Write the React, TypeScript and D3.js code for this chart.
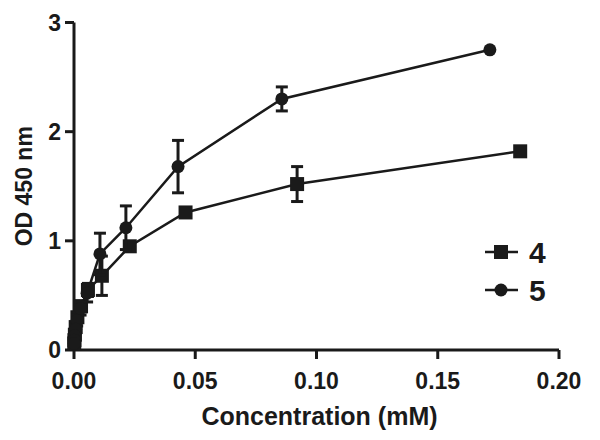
import React from 'react';
import * as d3 from 'd3';

// concentrations (mM), OD readings and SEM for each compound
const conc4 = [0.184, 0.092, 0.046, 0.023, 0.0115, 0.00575, 0.0029, 0.0014, 0.0007, 0.00036, 0.00018, 0.00009];
const od4 = [1.82, 1.52, 1.26, 0.95, 0.68, 0.55, 0.4, 0.3, 0.21, 0.14, 0.09, 0.06];
const err4 = [0.02, 0.16, 0.02, 0.04, 0.18, 0.06, 0.05, 0.04, 0.03, 0.02, 0.02, 0.01];

const conc5 = [0.1715, 0.0857, 0.0429, 0.0214, 0.0107, 0.0054, 0.0027, 0.0013, 0.0007, 0.00033, 0.00017, 0.00008];
const od5 = [2.75, 2.3, 1.68, 1.12, 0.88, 0.52, 0.38, 0.27, 0.19, 0.13, 0.09, 0.06];
const err5 = [0.0, 0.11, 0.24, 0.2, 0.19, 0.08, 0.06, 0.05, 0.04, 0.03, 0.02, 0.01];

const xTicks = [0, 0.05, 0.1, 0.15, 0.2];
const yTicks = [0, 1, 2, 3];
const seriesNames = ['4', '5'];

const W = 600;
const H = 440;
const ink = '#1a1a1a';
const font = '"Liberation Sans", Arial, sans-serif';

export default function App() {
  const x = d3.scaleLinear().domain([0, 0.2]).range([74, 559]);
  const y = d3.scaleLinear().domain([0, 3]).range([350, 22.5]);

  const series = [
    { name: seriesNames[0], xs: conc4, ys: od4, es: err4, shape: 'square' },
    { name: seriesNames[1], xs: conc5, ys: od5, es: err5, shape: 'circle' },
  ];

  const line = d3.line<[number, number]>()
    .x(d => x(d[0]))
    .y(d => y(d[1]));

  const marker = (shape: string, cx: number, cy: number, key: string | number) =>
    shape === 'square'
      ? <rect key={key} x={cx - 7} y={cy - 7} width={14} height={14} fill={ink} />
      : <circle key={key} cx={cx} cy={cy} r={6.5} fill={ink} />;

  return (
    <svg width={W} height={H} style={{ position: 'absolute', left: 0, top: 0, background: '#fff' }}>
      {/* axes */}
      <g stroke={ink} strokeWidth={3} fill="none">
        <line x1={x(0)} x2={x(0.2)} y1={y(0)} y2={y(0)} />
        <line x1={x(0)} x2={x(0)} y1={y(0)} y2={y(3)} />
        {xTicks.map(t => (
          <line key={t} x1={x(t)} x2={x(t)} y1={y(0)} y2={y(0) + 9} />
        ))}
        {yTicks.map(t => (
          <line key={t} x1={x(0) - 9} x2={x(0)} y1={y(t)} y2={y(t)} />
        ))}
      </g>
      <g fontFamily={font} fontWeight="bold" fill={ink} fontSize={23}>
        {xTicks.map(t => (
          <text key={t} x={x(t)} y={389} textAnchor="middle">{d3.format('.2f')(t)}</text>
        ))}
        {yTicks.map(t => (
          <text key={t} x={x(0) - 13} y={y(t) + 8} textAnchor="end">{t}</text>
        ))}
      </g>
      <text x={(x(0) + x(0.2)) / 2 + 3} y={425} textAnchor="middle" fontFamily={font} fontWeight="bold" fontSize={25} fill={ink}>
        Concentration (mM)
      </text>
      <text transform={`translate(32, ${(y(0) + y(3)) / 2}) rotate(-90)`} textAnchor="middle" fontFamily={font} fontWeight="bold" fontSize={23} fill={ink}>
        OD 450 nm
      </text>

      {/* series */}
      {series.map(s => {
        const pts = s.xs.map((v, i) => [v, s.ys[i]] as [number, number]);
        return (
          <g key={s.name}>
            <path d={line(pts) ?? ''} fill="none" stroke={ink} strokeWidth={2.5} />
            <g stroke={ink} strokeWidth={3}>
              {pts.map((p, i) => s.es[i] > 0 && (
                <g key={i}>
                  <line x1={x(p[0])} x2={x(p[0])} y1={y(p[1] - s.es[i])} y2={y(p[1] + s.es[i])} />
                  <line x1={x(p[0]) - 6} x2={x(p[0]) + 6} y1={y(p[1] + s.es[i])} y2={y(p[1] + s.es[i])} />
                  <line x1={x(p[0]) - 6} x2={x(p[0]) + 6} y1={y(p[1] - s.es[i])} y2={y(p[1] - s.es[i])} />
                </g>
              ))}
            </g>
            {pts.map((p, i) => marker(s.shape, x(p[0]), y(p[1]), i))}
          </g>
        );
      })}

      {/* legend */}
      {series.map((s, i) => {
        const ly = 252 + i * 38;
        return (
          <g key={s.name}>
            <line x1={485} x2={518} y1={ly} y2={ly} stroke={ink} strokeWidth={2.5} />
            {marker(s.shape, 501, ly, 'm')}
            <text x={529} y={ly + 11} fontFamily={font} fontWeight="bold" fontSize={30} fill={ink}>{s.name}</text>
          </g>
        );
      })}
    </svg>
  );
}
